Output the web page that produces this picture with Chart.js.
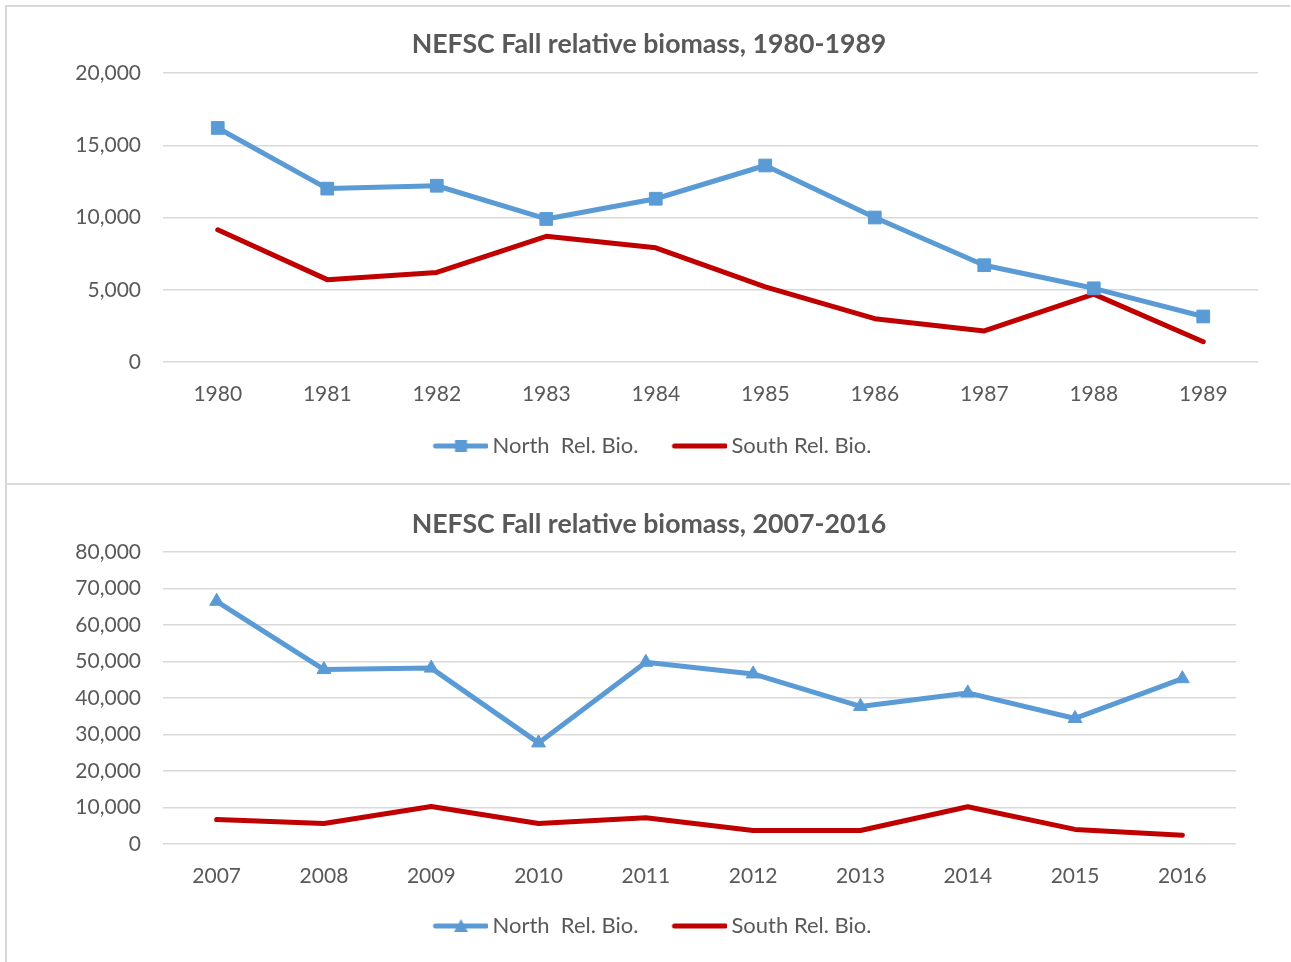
<!DOCTYPE html>
<html>
<head>
<meta charset="utf-8">
<script src="https://cdn.jsdelivr.net/npm/chart.js@4.4.1/dist/chart.umd.min.js"></script>
<style>
  body { margin: 0; background: #fff; width: 1291px; height: 962px; overflow: hidden; position: relative; }
  canvas { position: absolute; left: 0; }
  #c1 { top: 0; }
  #c2 { top: 484px; }
  .rule { position: absolute; background: #d9d9d9; }
</style>
</head>
<body>
<canvas id="c1" width="1291" height="484"></canvas>
<canvas id="c2" width="1291" height="478"></canvas>
<div class="rule" style="left:5px;top:5px;width:1285px;height:2px"></div>
<div class="rule" style="left:5px;top:483px;width:1285px;height:2px"></div>
<div class="rule" style="left:5px;top:5px;width:2px;height:957px"></div>
<script>
// Datos
const years1980 = ["1980","1981","1982","1983","1984","1985","1986","1987","1988","1989"];
const north1980 = [16200, 12000, 12200, 9900, 11300, 13600, 10000, 6700, 5100, 3150];
const south1980 = [9150, 5700, 6200, 8700, 7900, 5200, 3000, 2150, 4700, 1400];

const years2007 = ["2007","2008","2009","2010","2011","2012","2013","2014","2015","2016"];
const north2007 = [66500, 47800, 48200, 27700, 49800, 46600, 37700, 41400, 34400, 45300];
const south2007 = [6700, 5600, 10300, 5600, 7200, 3700, 3700, 10200, 4000, 2400];

const yTicks1980 = { max: 20000, step: 5000 };
const yTicks2007 = { max: 80000, step: 10000 };

const BLUE = "#5B9BD5";
const RED = "#C00000";
const GREY_TEXT = "#595959";
const GRID = "#d9d9d9";

Chart.defaults.font.family = "Lato, 'Open Sans', sans-serif";
Chart.defaults.color = GREY_TEXT;

// Icono de leyenda: línea con marcador en medio (como Excel)
function legendIcon(color, marker) {
  const lineLen = 55, shift = 7;
  const c = document.createElement("canvas");
  c.width = lineLen + shift * 2;
  c.height = 22;
  const g = c.getContext("2d");
  g.strokeStyle = color;
  g.lineWidth = 5;
  g.lineCap = "round";
  g.beginPath();
  g.moveTo(shift * 2 + 2, 11);
  g.lineTo(c.width - 2, 11);
  g.stroke();
  const cx = shift * 2 + lineLen / 2;
  g.fillStyle = color;
  if (marker === "rect") {
    g.fillRect(cx - 6, 5, 12, 12);
  } else if (marker === "triangle") {
    g.beginPath();
    g.moveTo(cx, 4);
    g.lineTo(cx + 7, 17);
    g.lineTo(cx - 7, 17);
    g.closePath();
    g.fill();
  }
  return c;
}

function makeChart(el, opts) {
  const icons = [legendIcon(BLUE, opts.marker), legendIcon(RED, null)];
  return new Chart(el, {
    type: "line",
    data: {
      labels: opts.labels,
      datasets: [
        {
          label: "North  Rel. Bio.",
          data: opts.north,
          borderColor: BLUE,
          backgroundColor: BLUE,
          borderWidth: 5,
          pointStyle: opts.marker,
          pointRadius: opts.marker === "rect" ? 9 : 8,
          pointBorderWidth: 1,
          tension: 0,
          borderJoinStyle: "round"
        },
        {
          label: "South Rel. Bio.",
          data: opts.south,
          borderColor: RED,
          backgroundColor: RED,
          borderWidth: 5,
          pointRadius: 0,
          tension: 0,
          borderCapStyle: "round",
          borderJoinStyle: "round"
        }
      ]
    },
    options: {
      responsive: false,
      animation: false,
      layout: { padding: opts.padding },
      plugins: {
        title: {
          display: true,
          text: opts.title,
          color: GREY_TEXT,
          font: { size: 26.7, weight: "bold" },
          padding: opts.titlePad
        },
        legend: {
          position: "bottom",
          labels: {
            usePointStyle: true,
            pointStyleWidth: 55,
            padding: 27,
            font: { size: 22 },
            color: GREY_TEXT,
            generateLabels(chart) {
              const items = Chart.defaults.plugins.legend.labels.generateLabels(chart);
              items.forEach((it, i) => { it.pointStyle = icons[i]; });
              return items;
            }
          }
        },
        tooltip: { enabled: false }
      },
      scales: {
        x: {
          offset: true,
          grid: { display: false },
          border: { display: false },
          ticks: { padding: opts.xPad, font: { size: 21 }, maxRotation: 0 },
          afterFit: s => { s.height = opts.xAxisH; }
        },
        y: {
          min: 0,
          max: opts.yTicks.max,
          border: { display: false },
          grid: { color: GRID, lineWidth: 1.5, drawTicks: false },
          ticks: {
            stepSize: opts.yTicks.step,
            padding: 22,
            font: { size: 21 },
            callback: v => v.toLocaleString("en-US")
          },
          afterFit: s => { s.width = opts.yAxisW; }
        }
      }
    }
  });
}

makeChart(document.getElementById("c1"), {
  title: "NEFSC Fall relative biomass, 1980-1989",
  labels: years1980, north: north1980, south: south1980,
  yTicks: yTicks1980, marker: "rect",
  padding: { left: 40, right: 33, top: 0, bottom: 17 },
  titlePad: { top: 28.8, bottom: 12.2 },
  yAxisW: 123, xAxisH: 46, xPad: 12
});

makeChart(document.getElementById("c2"), {
  title: "NEFSC Fall relative biomass, 2007-2016",
  labels: years2007, north: north2007, south: south2007,
  yTicks: yTicks2007, marker: "triangle",
  padding: { left: 62, right: 55, top: 0, bottom: 15 },
  titlePad: { top: 24.6, bottom: 11.4 },
  yAxisW: 101, xAxisH: 44, xPad: 12
});
</script>
</body>
</html>
